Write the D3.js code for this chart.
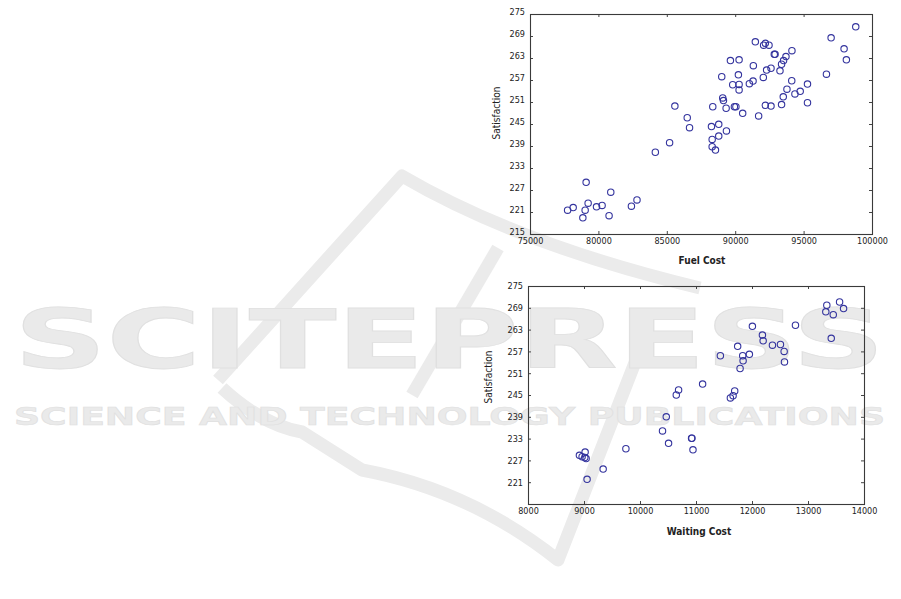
<!DOCTYPE html>
<html><head><meta charset="utf-8">
<script src="https://cdn.jsdelivr.net/npm/d3@7"></script>
<style>body{margin:0;background:#fff} svg{display:block}</style>
</head><body>
<svg id="c" width="901" height="599"></svg>
<script>
// ---- data ----
const fuelCost = [77748,78156,79103,79249,79031,78863,79862,80270,80904,80780,82413,82821,84162,85204,85590,86494,86662,88360,88265,88797,88316,88797,88316,88557,89359,89089,89140,89337,89942,90051,90547,91713,89016,89650,90284,90233,89818,90284,90284,91035,91305,91326,91472,92055,92296,92617,92077,92201,92471,92857,92915,93273,93389,93535,93710,94147,94133,93783,93513,94366,94752,95284,95284,93389,92201,92617,96670,97011,97959,98127,98812];
const fuelSatisfaction = [221.5,222.2,229.1,223.4,221.5,219.4,222.4,222.8,226.4,220.0,222.6,224.3,237.3,239.9,249.9,246.7,244.0,249.7,244.3,244.9,240.8,241.7,238.8,237.9,243.1,252.1,251.4,249.3,249.7,249.7,247.9,247.2,257.9,262.3,262.5,258.4,255.7,255.8,254.3,256.0,256.7,260.9,267.4,257.7,259.7,260.2,266.5,267.0,266.5,264.0,264.0,259.5,261.3,262.3,263.4,265.0,256.8,254.5,252.4,253.2,253.9,255.9,250.8,250.3,250.1,249.9,258.6,268.5,265.5,262.5,271.5];
const waitingCost = [8918,8966,9014,9038,9020,9055,9342,9748,10402,10469,10510,10648,10689,10921,10927,10946,11118,11435,11614,11662,11691,11744,11834,11841,11787,11953,12007,12186,12199,12365,12508,12574,12580,12776,13318,13336,13415,13451,13564,13635];
const waitingSatisfaction = [228.4,228.0,227.8,227.5,229.3,221.8,224.6,230.2,235.1,239.0,231.7,245.0,246.4,233.1,233.1,229.9,248.0,255.8,244.2,244.8,246.1,258.4,255.8,254.4,252.3,256.2,263.9,261.5,259.9,258.7,258.9,257.0,254.1,264.2,267.9,269.7,260.6,267.1,270.6,268.8];
const fuelTicks = [75000,80000,85000,90000,95000,100000];
const waitingTicks = [8000,9000,10000,11000,12000,13000,14000];
const satTicksTop = [215,221,227,233,239,245,251,257,263,269,275];
const satTicksBottom = [221,227,233,239,245,251,257,263,269,275];
const xTitles = ["Fuel Cost","Waiting Cost"];
const yTitle = "Satisfaction";
const watermarkBig = "SCITEPRESS";
const watermarkSmall = "SCIENCE AND TECHNOLOGY PUBLICATIONS";

const svg = d3.select("#c");
const FONT = "'DejaVu Sans Condensed','Liberation Sans Narrow',sans-serif";

// ---- watermark ----
const wm = svg.append("g");
const logo = [
  "M218,380 L402,176 Q520,245 700,288",
  "M498,248 L412,395",
  "M222,388 Q262,425 302,432 L362,470 Q470,490 558,560 L604,442 L636,360"
];
logo.forEach(d => wm.append("path").attr("d", d).attr("fill","none")
  .attr("stroke","#ebebeb").attr("stroke-width",13).attr("stroke-linejoin","round"));
wm.append("text").attr("x",14).attr("y",368).attr("textLength",871)
  .attr("lengthAdjust","spacingAndGlyphs")
  .style("font","bold 82px 'DejaVu Sans'").attr("fill","#eaeaea")
  .attr("stroke","#e0e0e0").attr("stroke-width",0.8).text(watermarkBig);
wm.append("text").attr("x",14).attr("y",425).attr("textLength",871)
  .attr("lengthAdjust","spacingAndGlyphs")
  .style("font","bold 25px 'DejaVu Sans'").attr("fill","#eaeaea")
  .attr("stroke","#e0e0e0").attr("stroke-width",0.6).text(watermarkSmall);

function chart(cfg){
  const g = svg.append("g");
  const x = d3.scaleLinear().domain(cfg.xDomain).range([cfg.left, cfg.right]);
  const y = d3.scaleLinear().domain([215,275]).range([cfg.bottom, cfg.top]);

  const style = sel => {
    sel.select(".domain").remove();
    sel.selectAll(".tick line").attr("stroke","#444");
    sel.selectAll(".tick text").style("font", "9px " + FONT).attr("fill","#222");
  };
  g.append("g").attr("transform",`translate(0,${cfg.bottom})`)
    .call(d3.axisBottom(x).tickValues(cfg.xTicks).tickFormat(d3.format("d")).tickSize(-3).tickPadding(4))
    .call(style);
  g.append("g").attr("transform",`translate(0,${cfg.top})`)
    .call(d3.axisTop(x).tickValues(cfg.xTicks).tickFormat("").tickSize(-3))
    .call(style);
  g.append("g").attr("transform",`translate(${cfg.left},0)`)
    .call(d3.axisLeft(y).tickValues(cfg.yTicks).tickFormat(d3.format("d")).tickSize(-3).tickPadding(5))
    .call(style)
    .selectAll(".tick text").attr("dy", cfg.yLabelDy);
  g.append("g").attr("transform",`translate(${cfg.right},0)`)
    .call(d3.axisRight(y).tickValues(cfg.yTicks).tickFormat("").tickSize(-3))
    .call(style);

  g.append("rect").attr("x",cfg.left+0.5).attr("y",cfg.top+0.5)
    .attr("width",cfg.right-cfg.left).attr("height",cfg.bottom-cfg.top)
    .attr("fill","none").attr("stroke","#3a3a3a").attr("stroke-width",1.1);

  g.append("g").selectAll("circle").data(cfg.xs).join("circle")
    .attr("cx",(d,i)=>x(d)).attr("cy",(d,i)=>y(cfg.ys[i])).attr("r",3.2)
    .attr("fill","none").attr("stroke","#34349e").attr("stroke-width",1.1);

  g.append("text").attr("x",cfg.xTitlePos[0]).attr("y",cfg.xTitlePos[1])
    .attr("text-anchor","middle").attr("dominant-baseline","middle")
    .style("font","bold 10px " + FONT).attr("fill","#222").text(cfg.xTitle);
  g.append("text").attr("transform",`translate(${cfg.yTitlePos[0]},${cfg.yTitlePos[1]}) rotate(-90)`)
    .attr("text-anchor","middle").attr("dominant-baseline","middle")
    .style("font","10px " + FONT).attr("fill","#222").text(yTitle);
}

chart({left:530, right:872, top:14, bottom:234, xDomain:[75000,100000],
  xTicks:fuelTicks, yTicks:satTicksTop, yLabelDy:"0.1em",
  xs:fuelCost, ys:fuelSatisfaction, xTitle:xTitles[0],
  xTitlePos:[702,261], yTitlePos:[497,113]});

chart({left:528, right:864, top:286, bottom:504, xDomain:[8000,14000],
  xTicks:waitingTicks, yTicks:satTicksBottom, yLabelDy:"0.32em",
  xs:waitingCost, ys:waitingSatisfaction, xTitle:xTitles[1],
  xTitlePos:[699,532], yTitlePos:[489,377]});
</script>
</body></html>
